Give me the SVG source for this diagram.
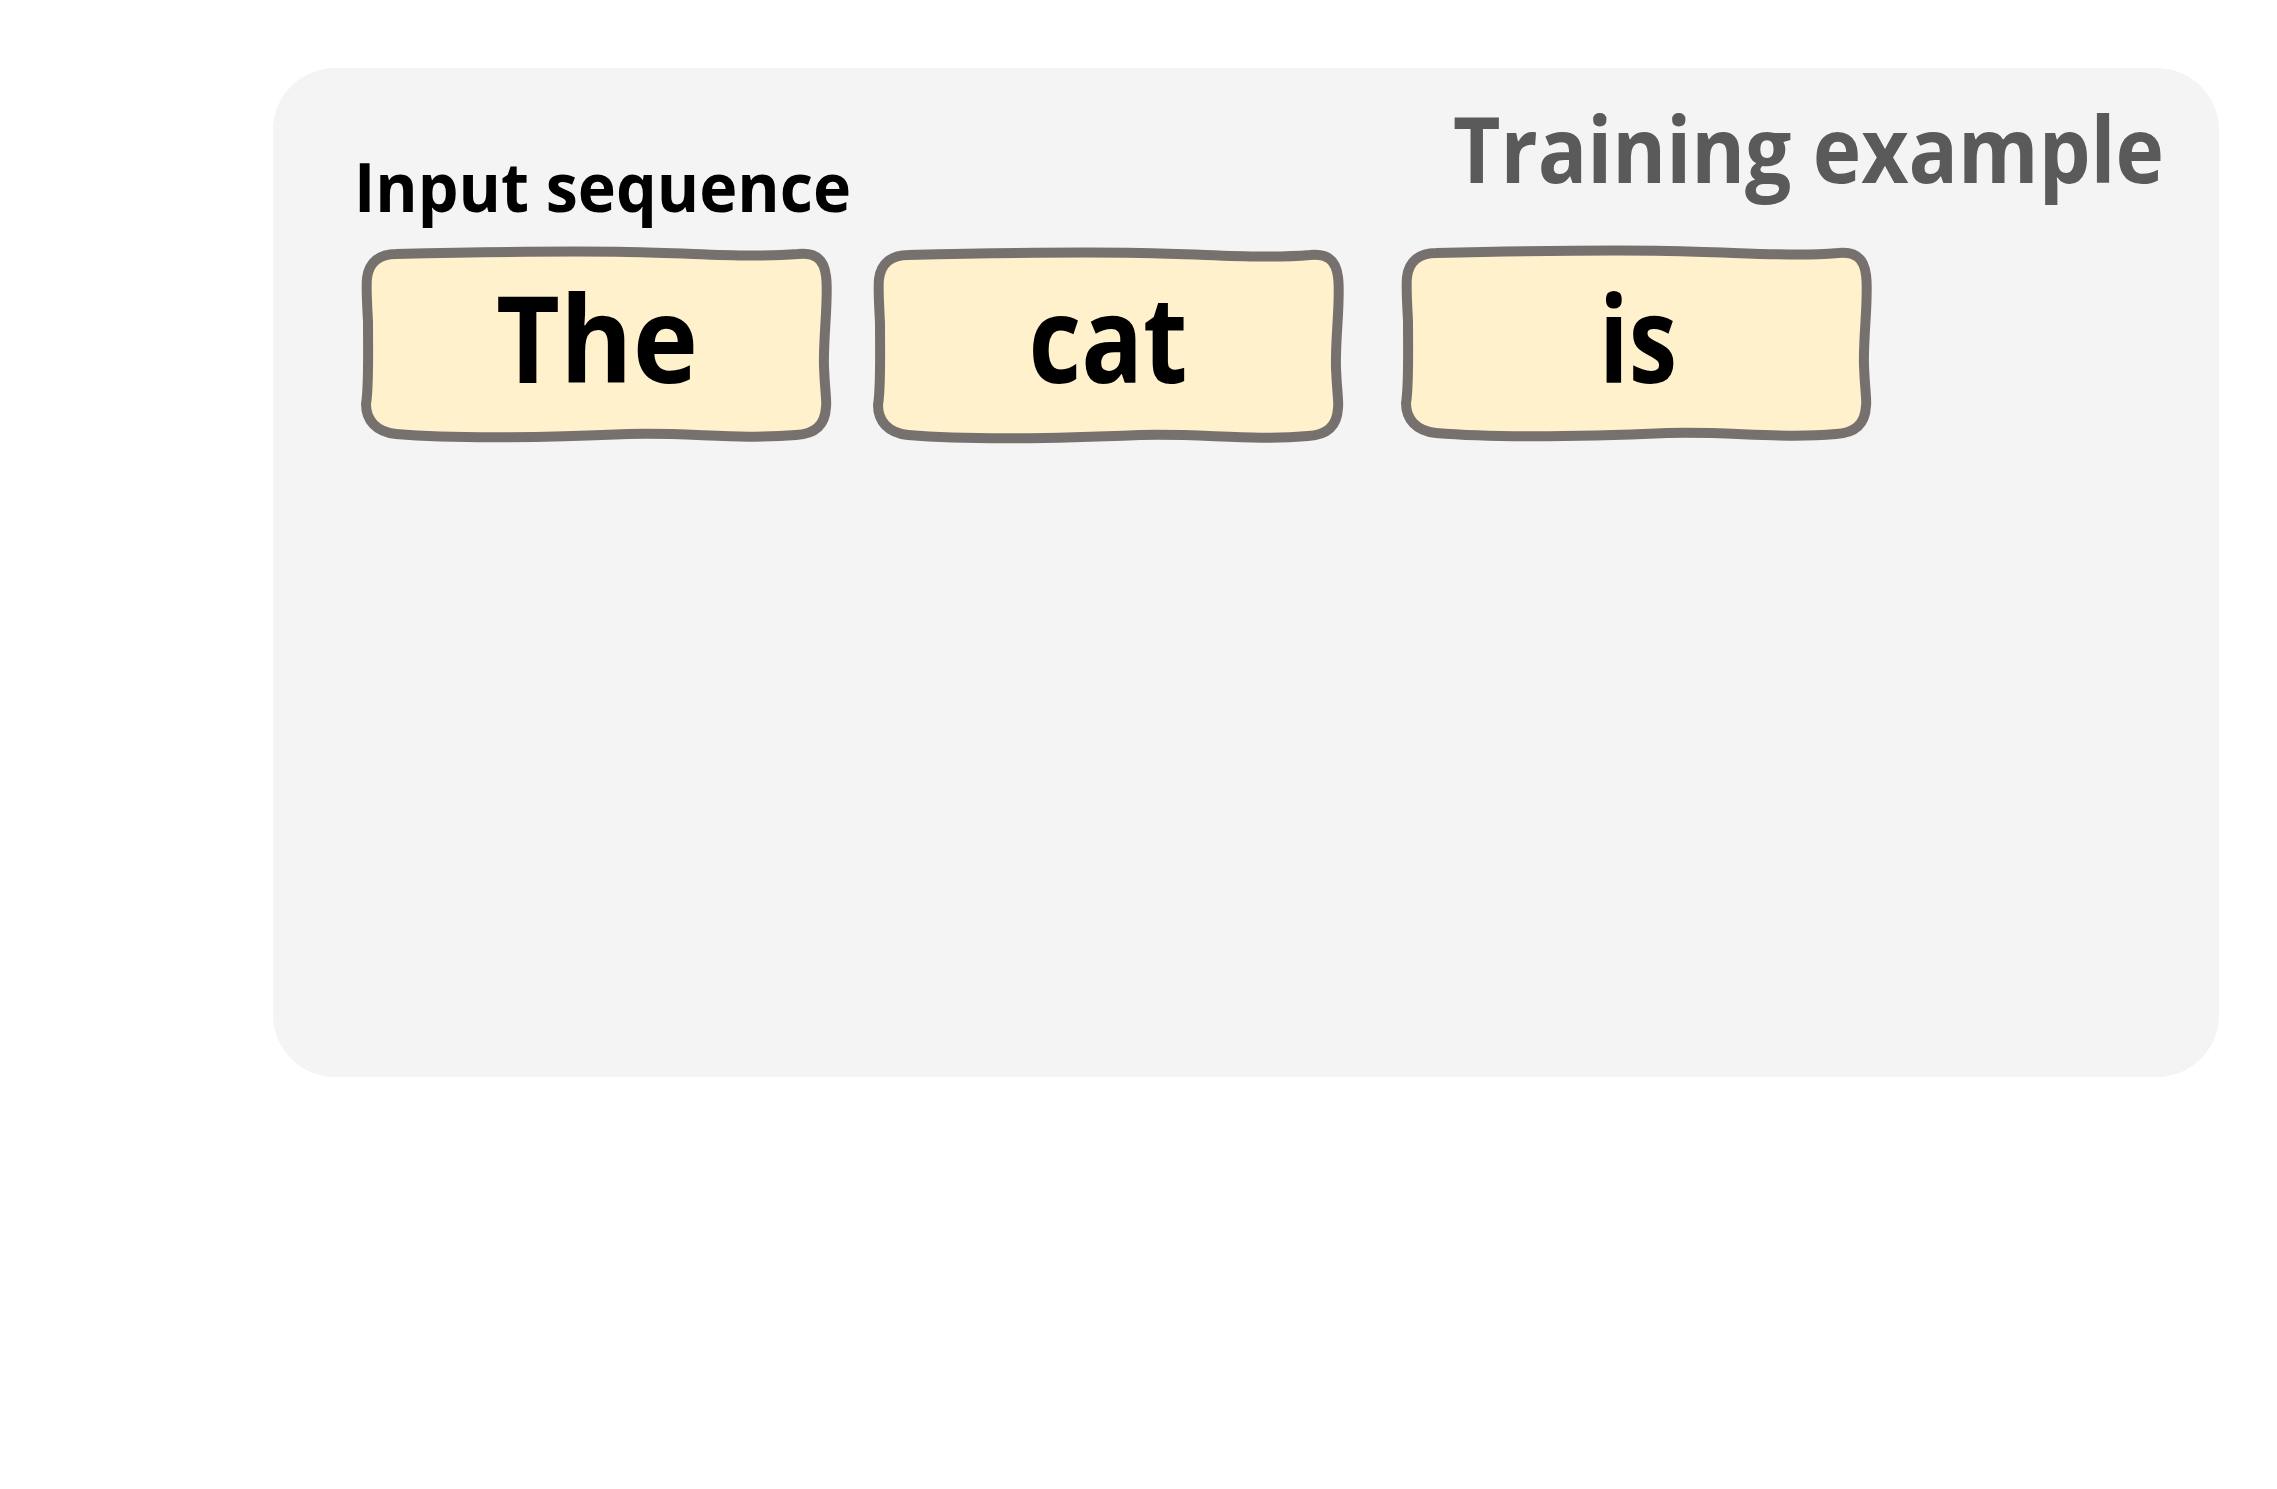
<svg xmlns="http://www.w3.org/2000/svg" width="2277" height="1489" viewBox="0 0 2277 1489">
  <style>
    .panel { fill: #f4f4f4; }
    .title { font-family: "Open Sans", "Noto Sans", "DejaVu Sans", sans-serif; font-weight: 700; font-size: 91px; fill: #5a5a5a; }
    .label { font-family: "Open Sans", "Noto Sans", "DejaVu Sans", sans-serif; font-weight: 700; font-size: 68px; fill: #000000; }
    .token { fill: #fff1cc; stroke: #76716f; stroke-width: 10; stroke-linejoin: round; }
    .tokentext { font-family: "Open Sans", "Noto Sans", "DejaVu Sans", sans-serif; font-weight: 700; font-size: 120px; fill: #000000; text-anchor: middle; }
  </style>
  <defs>
    <path id="tokshape" d="M 30 2 C 120 0 200 -1 262 0 C 330 1 385 6 432 2 C 450 0 458 8 460 24 C 463 45 457 85 458 115 C 459 140 461 150 460 155 C 459 174 448 182 430 183 C 372 188 322 180 262 182 C 192 185 102 188 30 182 C 10 180 0 168 0 152 C 3 135 2 100 2 70 C 1 50 0 35 1 26 C 3 10 14 2 30 2 Z"/>
  </defs>
  <rect class="panel" x="273" y="68" width="1946" height="1009" rx="62" ry="62"/>
  <text id="title" class="title" x="1453" y="183" textLength="711" lengthAdjust="spacingAndGlyphs">Training example</text>
  <text id="input-label" class="label" x="354" y="212" textLength="497" lengthAdjust="spacingAndGlyphs">Input sequence</text>
  <g id="token-the">
    <use href="#tokshape" class="token" x="366" y="252"/>
    <text class="tokentext" x="597" y="383" textLength="202" lengthAdjust="spacingAndGlyphs">The</text>
  </g>
  <g id="token-cat">
    <use href="#tokshape" class="token" x="878" y="253"/>
    <text class="tokentext" x="1108" y="383" textLength="159" lengthAdjust="spacingAndGlyphs">cat</text>
  </g>
  <g id="token-is">
    <use href="#tokshape" class="token" x="1406" y="251"/>
    <text class="tokentext" x="1638" y="383" textLength="78" lengthAdjust="spacingAndGlyphs">is</text>
  </g>
  <g id="connectors"></g>
</svg>
